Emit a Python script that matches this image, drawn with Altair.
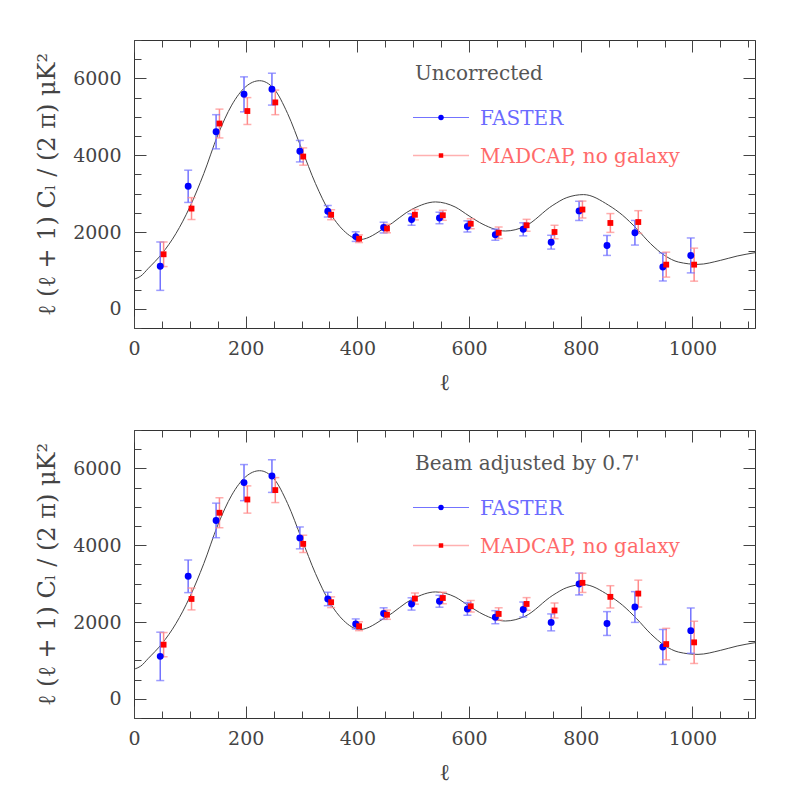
import altair as alt
import pandas as pd

# ---------------- data ----------------
ell = [50, 100, 150, 200, 250, 300, 350, 400, 450, 500,
       550, 600, 650, 700, 750, 800, 850, 900, 950, 1000]

# top panel: Uncorrected
top_faster = [1110, 3190, 4610, 5585, 5720, 4105, 2540, 1880, 2115, 2325,
              2365, 2145, 1930, 2070, 1735, 2550, 1650, 1980, 1090, 1390]
top_faster_err = [630, 420, 445, 455, 415, 280, 150, 125, 140, 150,
                  150, 145, 145, 170, 180, 250, 260, 320, 365, 455]
top_madcap = [1420, 2610, 4825, 5150, 5375, 3965, 2450, 1825, 2090, 2450,
              2435, 2215, 1980, 2175, 2000, 2585, 2235, 2260, 1150, 1150]
top_madcap_err = [320, 285, 375, 350, 320, 225, 130, 100, 110, 135,
                  130, 130, 150, 155, 175, 220, 245, 295, 325, 430]

# bottom panel: Beam adjusted
bot_faster = [1105, 3190, 4645, 5630, 5800, 4190, 2600, 1950, 2220, 2470,
              2540, 2340, 2125, 2325, 1990, 2990, 1960, 2390, 1350, 1775]
bot_faster_err = [630, 425, 450, 470, 425, 285, 175, 130, 150, 160,
                  155, 165, 170, 195, 220, 285, 310, 400, 455, 590]
bot_madcap = [1410, 2600, 4845, 5190, 5435, 4035, 2515, 1890, 2190, 2610,
              2625, 2410, 2210, 2470, 2300, 3020, 2655, 2740, 1425, 1470]
bot_madcap_err = [315, 285, 390, 355, 325, 225, 140, 115, 120, 145,
                  150, 150, 160, 165, 195, 250, 290, 350, 410, 550]

# theory curve
curve_ell = [2, 12, 25, 50, 75, 100, 125, 150, 175, 200, 225, 250, 275, 300,
             325, 350, 375, 405, 450, 500, 540, 575, 600, 625, 665, 700, 750,
             775, 805, 850, 875, 900, 925, 950, 975, 1010, 1050, 1080, 1112]
curve_val = [780, 850, 1043, 1435, 1957, 2652, 3522, 4522, 5304, 5783, 5940,
             5740, 5087, 4174, 3261, 2522, 2043, 1805, 2113, 2609, 2783, 2652,
             2418, 2200, 2026, 2148, 2696, 2896, 2974, 2696, 2435, 2087, 1696,
             1391, 1217, 1157, 1261, 1374, 1461]

x_label_ticks = [0, 200, 400, 600, 800, 1000]
y_label_ticks = [0, 2000, 4000, 6000]
x_minor_ticks = list(range(0, 1101, 50))
y_minor_ticks = list(range(-500, 7001, 500))

notes = ["Uncorrected", "Beam adjusted by 0.7'"]
series_names = ["FASTER", "MADCAP, no galaxy"]

# ---------------- styling ----------------
X_DOMAIN = [0, 1112]
Y_DOMAIN = [-500, 7000]
W, H = 621, 288
FONT = "DejaVu Serif"
AX = "#444444"
BLUE = "#0000ff"
BLUE_BAR = "#7373ff"
RED = "#ff0000"
RED_BAR = "#ff8a8a"

curve_df = pd.DataFrame({"l": curve_ell, "v": curve_val})


def xs():
    return alt.Scale(domain=X_DOMAIN, nice=False, zero=False)


def ys():
    return alt.Scale(domain=Y_DOMAIN, nice=False, zero=False)


def tick_layer(xvals, yvals, size, xo, yo):
    return alt.Chart(curve_df).mark_point(opacity=0).encode(
        x=alt.X("l:Q", scale=xs(), title="",
                axis=alt.Axis(orient=xo, offset=-H, values=xvals, tickSize=size,
                              labels=False, domain=False, grid=False,
                              tickColor=AX, tickWidth=1)),
        y=alt.Y("v:Q", scale=ys(), title="",
                axis=alt.Axis(orient=yo, offset=-W, values=yvals, tickSize=size,
                              labels=False, domain=False, grid=False,
                              tickColor=AX, tickWidth=1)),
    )


def series_layers(vals, errs, shift, bar_color, pt_color, shape, size):
    df = pd.DataFrame({"l": ell, "v": vals, "e": errs})
    base = alt.Chart(df).transform_calculate(
        xl=f"datum.l + ({shift})",
        lo="datum.v - datum.e",
        hi="datum.v + datum.e",
    )
    bars = base.mark_rule(color=bar_color, strokeWidth=1.5).encode(
        x=alt.X("xl:Q", scale=xs(), axis=None),
        y=alt.Y("lo:Q", scale=ys(), axis=None),
        y2="hi:Q",
    )
    caps = base.transform_fold(["lo", "hi"], as_=["k", "yy"]).mark_tick(
        color=bar_color, orient="horizontal", size=8, thickness=1.5
    ).encode(
        x=alt.X("xl:Q", scale=xs(), axis=None),
        y=alt.Y("yy:Q", scale=ys(), axis=None),
    )
    pts = base.mark_point(filled=True, opacity=1, color=pt_color, shape=shape,
                          size=size).encode(
        x=alt.X("xl:Q", scale=xs(), axis=None),
        y=alt.Y("v:Q", scale=ys(), axis=None),
    )
    return bars, caps, pts


def panel(fv, fe, mv, me, note):
    ytitle = "\u2113 (\u2113 + 1) C\u2097 / (2 \u03c0)   \u03bcK\u00b2"
    curve = alt.Chart(curve_df).mark_line(
        color="#444444", strokeWidth=1, interpolate="monotone", clip=True
    ).encode(
        x=alt.X("l:Q", scale=xs(), title="\u2113",
                axis=alt.Axis(values=x_label_ticks, format="d", ticks=False,
                              tickSize=0, domain=False, grid=False,
                              labelFlush=False, labelOverlap=False,
                              labelFont=FONT, labelFontSize=19, labelColor=AX,
                              labelPadding=11, titleFont=FONT, titleFontSize=23,
                              titleFontWeight="normal", titleColor=AX,
                              titlePadding=13)),
        y=alt.Y("v:Q", scale=ys(), title=ytitle,
                axis=alt.Axis(values=y_label_ticks, format="d", ticks=False,
                              tickSize=0, domain=False, grid=False,
                              labelFont=FONT, labelFontSize=19, labelColor=AX,
                              labelPadding=13, titleFont=FONT, titleFontSize=24,
                              titleFontWeight="normal", titleColor=AX,
                              titlePadding=13)),
    )
    fb, fc, fp = series_layers(fv, fe, -3, BLUE_BAR, BLUE, "circle", 48)
    mb, mc, mp = series_layers(mv, me, 3, RED_BAR, RED, "square", 34)

    one = pd.DataFrame({"t": [note]})
    note_txt = alt.Chart(one).mark_text(
        font=FONT, fontSize=20, color="#555555", align="left",
        baseline="alphabetic"
    ).encode(x=alt.value(281), y=alt.value(40), text="t:N")

    leg_f = pd.DataFrame({"t": [series_names[0]]})
    leg_m = pd.DataFrame({"t": [series_names[1]]})
    f_line = alt.Chart(leg_f).mark_rule(color=BLUE_BAR, strokeWidth=1).encode(
        x=alt.value(279), x2=alt.value(335), y=alt.value(77.5))
    f_dot = alt.Chart(leg_f).mark_point(filled=True, opacity=1, color=BLUE,
                                        shape="circle", size=30).encode(
        x=alt.value(307), y=alt.value(77.5))
    f_txt = alt.Chart(leg_f).mark_text(
        font=FONT, fontSize=20, color="#6a6aff", align="left",
        baseline="alphabetic").encode(x=alt.value(346), y=alt.value(85),
                                       text="t:N")
    m_line = alt.Chart(leg_m).mark_rule(color="#ffb0b0", strokeWidth=1.5).encode(
        x=alt.value(279), x2=alt.value(335), y=alt.value(115.5))
    m_dot = alt.Chart(leg_m).mark_point(filled=True, opacity=1, color=RED,
                                        shape="square", size=20).encode(
        x=alt.value(307), y=alt.value(115.5))
    m_txt = alt.Chart(leg_m).mark_text(
        font=FONT, fontSize=20, color="#ff6a6a", align="left",
        baseline="alphabetic").encode(x=alt.value(346), y=alt.value(123),
                                       text="t:N")

    layers = [
        curve, fb, mb, fc, mc, fp, mp,
        note_txt, f_line, f_dot, f_txt, m_line, m_dot, m_txt,
        tick_layer(x_label_ticks, y_label_ticks, 12, "top", "right"),
        tick_layer(x_label_ticks, y_label_ticks, 12, "bottom", "left"),
        tick_layer(x_minor_ticks, y_minor_ticks, 7, "top", "right"),
        tick_layer(x_minor_ticks, y_minor_ticks, 7, "bottom", "left"),
    ]
    return alt.layer(*layers).resolve_scale(
        x="independent", y="independent"
    ).properties(width=W, height=H)


top = panel(top_faster, top_faster_err, top_madcap, top_madcap_err, notes[0])
bottom = panel(bot_faster, bot_faster_err, bot_madcap, bot_madcap_err, notes[1])

chart = alt.vconcat(top, bottom, spacing=102, bounds="flush").properties(
    padding={"left": 27, "top": 31, "right": 5, "bottom": 5}
).configure_view(stroke="#333333", strokeWidth=1)

chart.save("out.html", embed_options={"renderer": "svg", "actions": False})
